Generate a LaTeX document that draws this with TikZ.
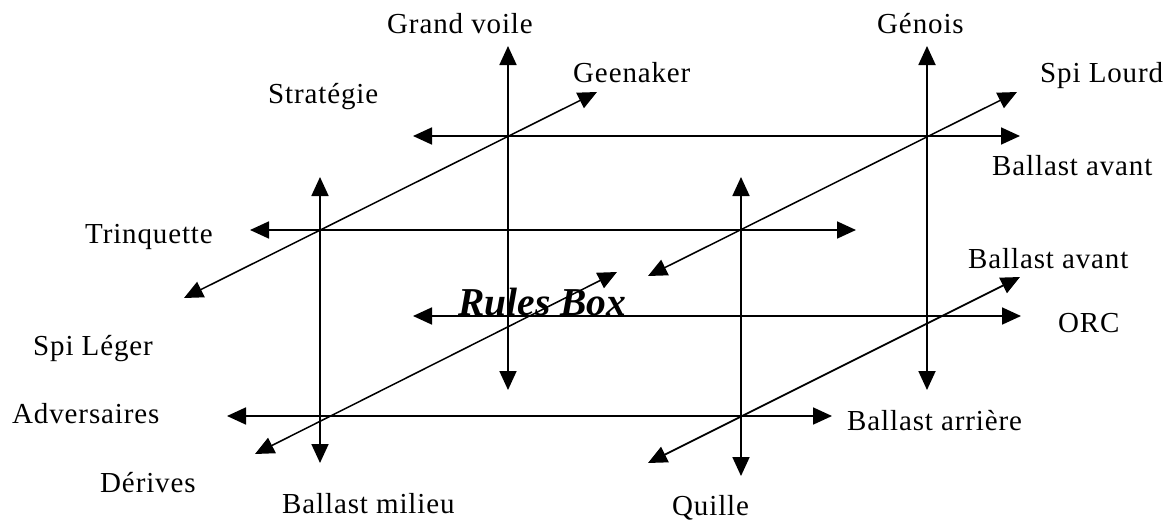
\documentclass[tikz,border=0pt]{standalone}
\usepackage{fontspec}
\setmainfont{Liberation Serif}
\newfontfamily\spacedfont[LetterSpace=3]{Liberation Serif}
\usetikzlibrary{arrows.meta}
\tikzset{
  lbl/.style={anchor=base west, inner sep=0pt, font=\spacedfont\fontsize{29}{34}\selectfont},
  title/.style={anchor=base west, inner sep=0pt, font=\fontsize{39.5}{44}\selectfont\bfseries\itshape},
  axis/.style={line width=1.8pt, {Triangle[length=19pt,width=17pt]}-{Triangle[length=19pt,width=17pt]}},
  diag/.style={line width=1.5pt, {Triangle[length=19pt,width=17pt]}-{Triangle[length=19pt,width=17pt]}}
}
\begin{document}
\begin{tikzpicture}[x=1pt,y=-1pt]
\useasboundingbox (0,0) rectangle (1173,522);
% labels
\node[lbl] (grandvoile) at (387,33) {Grand voile};
\node[lbl] (genois) at (877,33) {Génois};
\node[lbl] (geenaker) at (573,82) {Geenaker};
\node[lbl] (spilourd) at (1040,82) {Spi Lourd};
\node[lbl] (strategie) at (268,103) {Stratégie};
\node[lbl] (ballastavant1) at (992,175) {Ballast avant};
\node[lbl] (trinquette) at (85,243) {Trinquette};
\node[lbl] (ballastavant2) at (968,268) {Ballast avant};
\node[lbl] (orc) at (1058,332) {ORC};
\node[title] (rulesbox) at (458,315) {Rules Box};
\node[lbl] (spileger) at (33,355) {Spi Léger};
\node[lbl] (adversaires) at (12,423) {Adversaires};
\node[lbl] (ballastarriere) at (847,430) {Ballast arrière};
\node[lbl] (derives) at (100,492) {Dérives};
\node[lbl] (ballastmilieu) at (282,513) {Ballast milieu};
\node[lbl] (quille) at (672,515) {Quille};
% end points
\coordinate (h1l) at (413,136); \coordinate (h1r) at (1020,136);
\coordinate (v1t) at (508,46);  \coordinate (v1b) at (508,390);
\coordinate (v2t) at (927,46);  \coordinate (v2b) at (927,390);
\coordinate (d1a) at (597,92);  \coordinate (d1b) at (184,298);
\coordinate (d2a) at (1017,92); \coordinate (d2b) at (648,276);
\coordinate (h2l) at (250,230); \coordinate (h2r) at (856,230);
\coordinate (v3t) at (320,177); \coordinate (v3b) at (320,463);
\coordinate (v4t) at (741,177); \coordinate (v4b) at (741,476);
\coordinate (h3l) at (413,316); \coordinate (h3r) at (1021,316);
\coordinate (h4l) at (227,416); \coordinate (h4r) at (832,416);
\coordinate (d3a) at (617,272); \coordinate (d3b) at (255,454);
\coordinate (d4a) at (1020,277); \coordinate (d4b) at (648,463);
% connectors
\draw[axis] (h1l) -- (h1r);
\draw[axis] (v1b) -- (v1t);
\draw[axis] (v2b) -- (v2t);
\draw[diag] (d1b) -- (d1a);
\draw[diag] (d2b) -- (d2a);
\draw[axis] (h2l) -- (h2r);
\draw[axis] (v3b) -- (v3t);
\draw[axis] (v4b) -- (v4t);
\draw[axis] (h3l) -- (h3r);
\draw[axis] (h4l) -- (h4r);
\draw[diag] (d3b) -- (d3a);
\draw[axis] (d4b) -- (d4a);
\end{tikzpicture}
\end{document}
